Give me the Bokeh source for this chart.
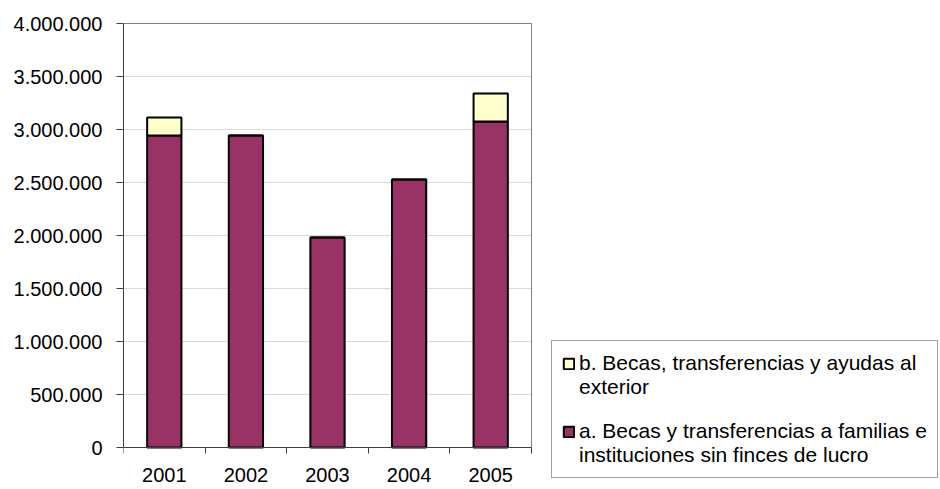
from bokeh.plotting import figure
from bokeh.models import (ColumnDataSource, FixedTicker, Grid, Legend, LegendItem, Range1d)
from bokeh.core.properties import value
from bokeh.embed import file_html
from bokeh.resources import INLINE

years = ["2001", "2002", "2003", "2004", "2005"]
becas_familias = [2943000, 2943000, 1981000, 2528000, 3075000]
becas_exterior = [170000, 0, 0, 0, 265000]
y_ticks = [0, 500000, 1000000, 1500000, 2000000, 2500000, 3000000, 3500000, 4000000]
y_tick_labels = ["0", "500.000", "1.000.000", "1.500.000", "2.000.000",
                 "2.500.000", "3.000.000", "3.500.000", "4.000.000"]
legend_a_lines = ["a. Becas y transferencias a familias e", "instituciones sin finces de lucro"]
legend_b_lines = ["b. Becas, transferencias y ayudas al", "exterior"]

FONT = "Liberation Sans"
PURPLE = "#993366"
YELLOW = "#FFFFCC"
AXIS = "#404040"
BORDER = "#808080"

# ---- layout (pixels) ----
W, H = 940, 489
LEFT, TOP = 123, 20            # frame origin
PLOT_W, PLOT_H = 408, 424      # width of the 5 categories, height 0..4,000,000
ABOVE = 3                      # px of frame above the top value
Y_MAX = y_ticks[-1]
n = len(years)
frame_w = W - LEFT - 1
frame_h = H - TOP
per_px_y = Y_MAX / PLOT_H
y_start = -(frame_h - PLOT_H - ABOVE) * per_px_y
y_end = Y_MAX + ABOVE * per_px_y
x_end = 0.5 + frame_w * n / PLOT_W

x = list(range(1, n + 1))
src = ColumnDataSource(dict(
    x=x,
    a=becas_familias,
    b_bottom=becas_familias,
    b_top=[f + e for f, e in zip(becas_familias, becas_exterior)],
))

p = figure(width=W, height=H, output_backend="svg", toolbar_location=None,
           x_range=Range1d(0.5, x_end), y_range=Range1d(y_start, y_end),
           min_border_left=LEFT, min_border_right=1, min_border_top=TOP,
           min_border_bottom=0)
p.background_fill_color = "white"
p.border_fill_color = "white"
p.outline_line_color = None

# grid lines inside the plot area only
p.xgrid.visible = False
p.ygrid.ticker = FixedTicker(ticks=y_ticks)
p.ygrid.grid_line_color = "#d9d9d9"
p.ygrid.grid_line_width = 1
p.ygrid.cross_bounds = (0.5, n + 0.5)

# plot area border (top and right)
p.add_layout(Grid(dimension=1, ticker=FixedTicker(ticks=[Y_MAX]),
                  cross_bounds=(0.5, n + 0.5),
                  grid_line_color=BORDER, grid_line_width=1))
p.add_layout(Grid(dimension=0, ticker=FixedTicker(ticks=[n + 0.5]),
                  cross_bounds=(0, Y_MAX),
                  grid_line_color=BORDER, grid_line_width=1))

ra = p.vbar(x="x", top="a", bottom=0, width=0.42, source=src,
            fill_color=PURPLE, line_color="black", line_width=2)
rb = p.vbar(x="x", top="b_top", bottom="b_bottom", width=0.42, source=src,
            fill_color=YELLOW, line_color="black", line_width=2)
r_blank = p.vbar(x="x", top="a", bottom=0, width=0.42, source=src,
                 fill_alpha=0, line_alpha=0)

yax = p.yaxis[0]
yax.ticker = FixedTicker(ticks=y_ticks, minor_ticks=[])
yax.bounds = (0, Y_MAX)
yax.major_label_overrides = {t: l for t, l in zip(y_ticks, y_tick_labels)}
yax.axis_line_color = AXIS
yax.major_tick_line_color = AXIS
yax.major_tick_out = 7
yax.major_tick_in = 0
yax.minor_tick_line_color = None
yax.major_label_standoff = 14
yax.major_label_text_font = FONT
yax.major_label_text_font_size = "20px"
yax.major_label_text_color = "black"

xax = p.xaxis[0]
xax.fixed_location = 0
xax.bounds = (0.5, n + 0.5)
xax.ticker = FixedTicker(ticks=x, minor_ticks=[i + 0.5 for i in range(0, n + 1)])
xax.major_label_overrides = {i: y for i, y in zip(x, years)}
xax.axis_line_color = AXIS
xax.major_tick_line_color = None
xax.minor_tick_line_color = AXIS
xax.minor_tick_out = 6
xax.minor_tick_in = 0
xax.major_tick_out = 6
xax.major_tick_in = 0
xax.major_label_standoff = 14
xax.major_label_text_font = FONT
xax.major_label_text_font_size = "20px"
xax.major_label_text_color = "black"

items = [
    LegendItem(label=value(legend_b_lines[0]), renderers=[rb]),
    LegendItem(label=value(legend_b_lines[1]), renderers=[r_blank]),
    LegendItem(label=value(" "), renderers=[r_blank]),
    LegendItem(label=value(legend_a_lines[0]), renderers=[ra]),
    LegendItem(label=value(legend_a_lines[1]), renderers=[r_blank]),
]
legend = Legend(items=items, location=(551 - LEFT, H - 478))
legend.border_line_color = AXIS
legend.border_line_width = 1
legend.background_fill_color = "white"
legend.background_fill_alpha = 1
legend.padding = 10
legend.spacing = 0
legend.margin = 0
legend.glyph_width = 13
legend.glyph_height = 13
legend.label_standoff = 4
legend.label_height = 20
legend.label_text_font = FONT
legend.label_text_font_size = "21px"
legend.label_text_color = "black"
p.add_layout(legend, "center")

open("out.html", "w").write(file_html(p, INLINE))
